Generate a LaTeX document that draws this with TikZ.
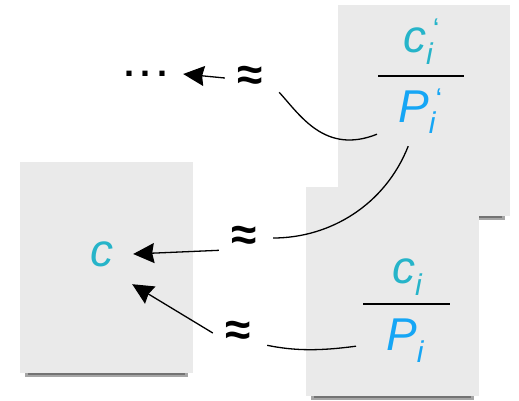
\documentclass[tikz,border=0pt]{standalone}
\usepackage{fontspec}
\setmainfont{Liberation Sans}
\usetikzlibrary{arrows.meta}
\definecolor{cteal}{RGB}{38,180,201}
\definecolor{pblue}{RGB}{22,166,245}
\definecolor{paper}{RGB}{234,234,234}
\tikzstyle{var}=[inner sep=0pt, font=\fontsize{46}{46}\selectfont\itshape]
\tikzstyle{apx}=[inner sep=0pt, minimum width=50pt, minimum height=20pt, font=\fontsize{46}{46}\selectfont\bfseries]
\tikzstyle{link}=[line width=1.3pt, black]
\tikzset{arr/.style={link, -{Stealth[length=21pt,width=20pt,inset=2pt]}}}
\def\sub#1{\raisebox{-12pt}{\fontsize{30}{30}\selectfont #1}}
\def\pr{\raisebox{13pt}{\fontsize{30}{30}\selectfont\upshape ‘}}
\def\sheet(#1,#2)(#3,#4){%
  \fill[black!35] (#1+5,#4-1) rectangle (#3-5,#4+4);
  \fill[black!55] (#1+8,#4) rectangle (#3-8,#4+2);
  \fill[paper] (#1,#2) rectangle (#3,#4);}

\begin{document}
\begin{tikzpicture}[x=1pt, y=-1pt]
      \useasboundingbox (0,0) rectangle (519,401);
      % sheets
      \sheet(338,5)(510,216)
      \sheet(306,187)(479,396)
      \sheet(20,162)(193,373)

      \node [var, text=cteal, anchor=base west] (c1) at (403,53) {c\sub{i}\pr};
      \node [var, text=pblue, anchor=base west] (P1) at (398,122) {P\sub{i}\pr};
      \draw [line width=2pt] (378,76) -- (464,76);
      \node [var, text=cteal, anchor=base west] (c2) at (392,283) {c\sub{i}};
      \node [var, text=pblue, anchor=base west] (P2) at (386,350) {P\sub{i}};
      \draw [line width=2pt] (363,304) -- (450,304);

      \node [var, text=cteal, minimum width=62pt, minimum height=60pt] (c) at (102,254) {c};
      \node [inner sep=0pt, minimum width=74pt, font=\fontsize{36}{36}\selectfont\bfseries] (dots) at (146,74) {.\hspace{6pt}.\hspace{6pt}.};

      \node [apx] (a1) at (250,78) {≈};
      \node [apx] (a2) at (244,238) {≈};
      \node [apx] (a3) at (238,333) {≈};

      \draw [link] ([xshift=-21pt]P1.south west) .. controls (325,155) and (300,115) .. ([xshift=4pt,yshift=-2pt]a1.south east);
      \draw [link] ([xshift=-12pt,yshift=-12pt]P1.south) .. controls (385,205) and (330,238) .. ([xshift=4pt]a2.east);
      \draw [link] ([xshift=-30pt,yshift=-6pt]P2.west) .. controls (320,351) and (295,351) .. ([xshift=4pt]a3.south east);

      \draw [arr] (a1.west) -- (dots.east);
      \draw [arr] (a2.south west) -- (c.east);
      \draw [arr] (a3.west) -- (c.-45);
\end{tikzpicture}
\end{document}
